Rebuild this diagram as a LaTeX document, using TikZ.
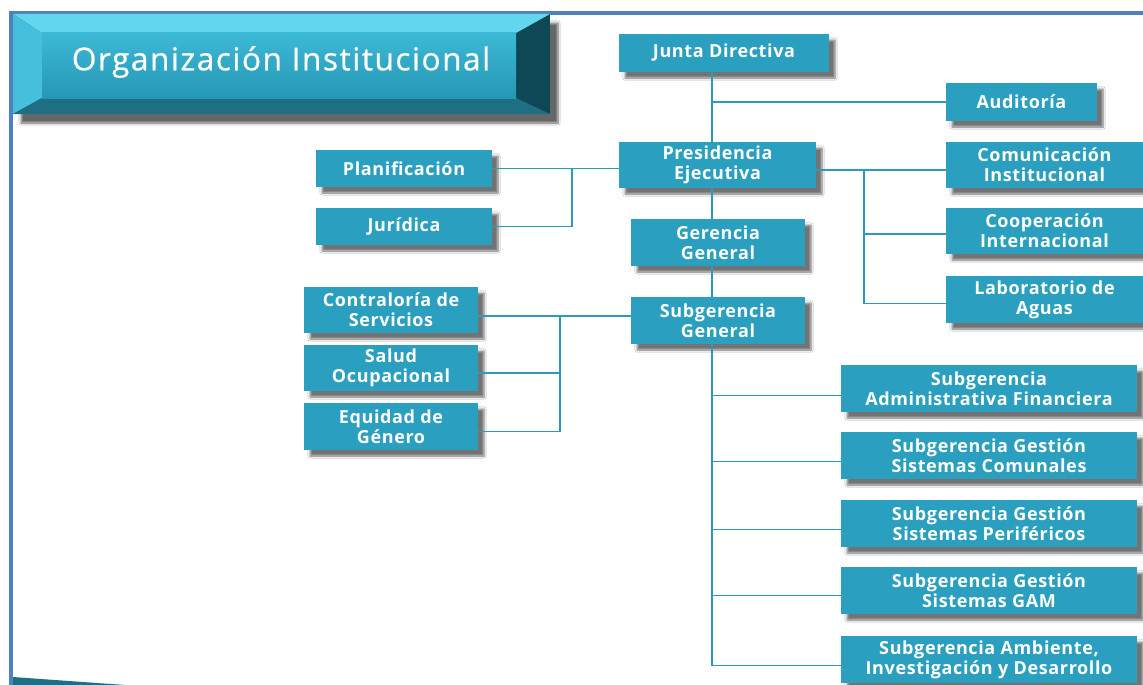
\documentclass[tikz,border=0pt]{standalone}
\usepackage{fontspec}
\setmainfont{Open Sans}
\newfontfamily\boxfont[LetterSpace=3.5]{Open Sans}
\newfontfamily\titlefont[LetterSpace=5, FakeBold=0.6]{Open Sans}
\usetikzlibrary{shadows.blur}
\definecolor{boxc}{HTML}{2A9FBF}
\definecolor{linec}{HTML}{2A9BBB}
\definecolor{framec}{HTML}{4F81BD}
\definecolor{bevtop}{HTML}{62D6EF}
\definecolor{bevleft}{HTML}{45BFDB}
\definecolor{bevbot}{HTML}{1F6F84}
\definecolor{bevright}{HTML}{0E4756}
\definecolor{facetop}{HTML}{3CB9D6}
\definecolor{facebot}{HTML}{2697B4}
\tikzset{
  orgbox/.style={fill=boxc, text=white, align=center, inner sep=0pt,
    font=\boxfont\fontsize{18}{20}\selectfont\bfseries,
    blur shadow={shadow xshift=6pt, shadow yshift=-6pt, shadow blur steps=6, shadow opacity=55}},
  dims/.style 2 args={minimum width=#1pt, minimum height=#2pt},
  conn/.style={draw=linec, line width=1.6pt}
}
\begin{document}
\begin{tikzpicture}[x=1pt,y=-1pt]
\useasboundingbox (0,0) rectangle (1143,685);
\fill[white] (0,0) rectangle (1143,685);
% frame
\fill[framec] (9,11) rectangle (1143,15);
\fill[framec] (9,11) rectangle (13,685);
\fill[bevbot] (13,677) -- (125,685) -- (13,685) -- cycle;
% title bevel box
\path[fill=bevright, blur shadow={shadow xshift=8pt, shadow yshift=-9pt, shadow blur steps=8, shadow opacity=60}] (13,14) rectangle (550,114);
\fill[bevtop] (13,14) -- (550,14) -- (516,33) -- (42,33) -- cycle;
\fill[bevleft] (13,14) -- (42,33) -- (42,98) -- (13,114) -- cycle;
\fill[bevbot] (13,114) -- (42,98) -- (516,98) -- (550,114) -- cycle;
\shade[top color=facetop, bottom color=facebot] (42,33) rectangle (516,98);
\node[text=white, font=\titlefont\fontsize{31.5}{36}\selectfont] (title) at (281,62) {Organización Institucional};
% spine coordinates
\coordinate (sp) at (712,0);
\coordinate (jl) at (572,0);
\coordinate (jr) at (864,0);
\coordinate (jc) at (560,0);
% boxes
\node[orgbox, dims={210}{38}] (jd) at (724,53) {Junta Directiva};
\node[orgbox, dims={151}{38}] (aud) at (1021.5,102) {Auditoría};
\node[orgbox, dims={197}{46}] (pres) at (717.5,165) {Presidencia\\Ejecutiva};
\node[orgbox, dims={197}{46}] (com) at (1044.5,165) {Comunicación\\Institucional};
\node[orgbox, dims={176}{37}] (plan) at (404,168.5) {Planificación};
\node[orgbox, dims={176}{37}] (jur) at (404,226.5) {Jurídica};
\node[orgbox, dims={174}{47}] (gg) at (718,242.5) {Gerencia\\General};
\node[orgbox, dims={174}{47}] (sg) at (718,320.5) {Subgerencia\\General};
\node[orgbox, dims={197}{46}] (coop) at (1044.5,231) {Cooperación\\Internacional};
\node[orgbox, dims={197}{47}] (lab) at (1044.5,299.5) {Laboratorio de\\Aguas};
\node[orgbox, dims={174}{46}] (contra) at (391,310) {Contraloría de\\Servicios};
\node[orgbox, dims={174}{46}] (salud) at (391,368) {Salud\\Ocupacional};
\node[orgbox, dims={174}{47}] (equi) at (391,426.5) {Equidad de\\Género};
\node[orgbox, dims={296}{47}] (saf) at (989,388.5) {Subgerencia\\Administrativa Financiera};
\node[orgbox, dims={296}{47}] (sgsc) at (989,455.5) {Subgerencia Gestión\\Sistemas Comunales};
\node[orgbox, dims={296}{47}] (sgsp) at (989,523.5) {Subgerencia Gestión\\Sistemas Periféricos};
\node[orgbox, dims={296}{47}] (gam) at (989,590.5) {Subgerencia Gestión\\Sistemas GAM};
\node[orgbox, dims={296}{47}] (said) at (989,659.5) {Subgerencia Ambiente,\\Investigación y Desarrollo};
% connectors
\draw[conn] (jd.south -| sp) -- (pres.north -| sp);
\draw[conn] (aud.west -| sp) -- (aud.west);
\draw[conn] (pres.south -| sp) -- (gg.north -| sp);
\draw[conn] (gg.south -| sp) -- (sg.north -| sp);
\draw[conn] (sg.south -| sp) -- ([yshift=-6pt]said.west -| sp) -- ([yshift=-6pt]said.west);
\draw[conn] ([yshift=-7pt]saf.west -| sp) -- ([yshift=-7pt]saf.west);
\draw[conn] ([yshift=-6pt]sgsc.west -| sp) -- ([yshift=-6pt]sgsc.west);
\draw[conn] ([yshift=-6pt]sgsp.west -| sp) -- ([yshift=-6pt]sgsp.west);
\draw[conn] ([yshift=-5pt]gam.west -| sp) -- ([yshift=-5pt]gam.west);
\draw[conn] ([yshift=-5pt]pres.east) -- ([yshift=-5pt]pres.east -| com.west);
\draw[conn] ([yshift=-5pt]pres.east -| jr) -- ([yshift=-4pt]lab.west -| jr) -- ([yshift=-4pt]lab.west);
\draw[conn] ([yshift=-3pt]coop.west -| jr) -- ([yshift=-3pt]coop.west);
\draw[conn] (plan.east) -- (plan.east -| pres.west);
\draw[conn] (plan.east -| jl) -- (jur.east -| jl) -- (jur.east);
\draw[conn] ([yshift=-6pt]contra.east) -- ([yshift=-6pt]contra.east -| sg.west);
\draw[conn] ([yshift=-6pt]contra.east -| jc) -- ([yshift=-5pt]equi.east -| jc) -- ([yshift=-5pt]equi.east);
\draw[conn] ([yshift=-5pt]salud.east -| jc) -- ([yshift=-5pt]salud.east);
\end{tikzpicture}
\end{document}
